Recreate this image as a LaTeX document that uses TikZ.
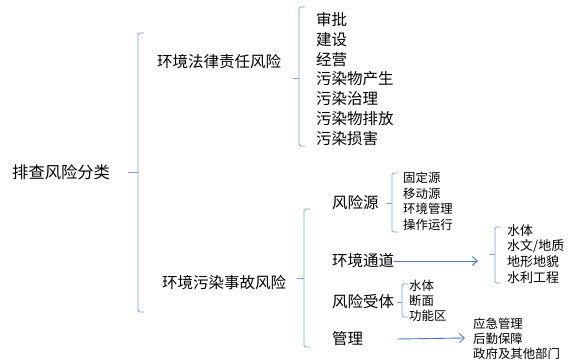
\documentclass[tikz,border=0pt]{standalone}
\usepackage{fontspec}
\usepackage{xcolor}
\usepackage{tikz}
\usetikzlibrary{arrows.meta, positioning}

\newfontfamily\cjk{Noto Sans CJK SC}
\definecolor{brkblue}{RGB}{130,160,212}
\definecolor{arrblue}{RGB}{80,120,196}

\tikzset{
  brk/.style={draw=brkblue, line width=0.9pt, rounded corners=1.5pt},
  arr/.style={draw=arrblue, line width=0.9pt, -{Straight Barb[length=5pt,width=9pt]}},
  big/.style={anchor=west, inner sep=0pt, font=\cjk\fontsize{15.5}{16}\selectfont},
  small/.style={anchor=west, inner sep=0pt, font=\cjk\fontsize{12.4}{13}\selectfont},
}

% left bracket: x of bar, top, bottom, y of tick, x of tick end
\newcommand{\lbrak}[5]{%
  \draw[brk] (#1+6,#2) -- (#1,#2) -- (#1,#3) -- (#1+6,#3);
  \draw[brk] (#5,#4) -- (#1,#4);
}

\begin{document}
\begin{tikzpicture}[x=1pt, y=-1pt]
  \useasboundingbox (0,0) rectangle (573,363);

  % root
  \node[big, font=\cjk\fontsize{16.3}{17}\selectfont] (root) at (12,172) {排查风险分类};
  \lbrak{138}{33}{312}{172}{128}

  % legal liability risk
  \node[big] (legal) at (157,62) {环境法律责任风险};
  \lbrak{299}{7}{146}{78}{293}
  \node[big] (l1) at (316,20)  {审批};
  \node[big] (l2) at (316,39.7) {建设};
  \node[big] (l3) at (316,59.4) {经营};
  \node[big] (l4) at (316,79.1) {污染物产生};
  \node[big] (l5) at (316,98.8) {污染治理};
  \node[big] (l6) at (316,118.5) {污染物排放};
  \node[big] (l7) at (316,138.2) {污染损害};

  % pollution accident risk
  \node[big] (accident) at (162,283) {环境污染事故风险};
  \lbrak{304}{209}{347}{278}{297}
  \node[big] (source)   at (332,203) {风险源};
  \node[big] (channel)  at (332,261) {环境通道};
  \node[big] (receptor) at (332,302) {风险受体};
  \node[big] (manage)   at (332,339) {管理};

  % risk source
  \lbrak{392}{173}{232}{203}{386}
  \node[small] (s1) at (403,178) {固定源};
  \node[small] (s2) at (403,193.5) {移动源};
  \node[small] (s3) at (403,209) {环境管理};
  \node[small] (s4) at (403,224.5) {操作运行};

  % channel
  \coordinate (chend) at (478,261);
  \draw[arr] (channel.east) -- (chend);
  \lbrak{495}{227}{283}{254}{489}
  \node[small, font=\cjk\fontsize{13}{14}\selectfont] (c1) at (507,231) {水体};
  \node[small, font=\cjk\fontsize{13}{14}\selectfont] (c2) at (507,246.5) {水文/地质};
  \node[small, font=\cjk\fontsize{13}{14}\selectfont] (c3) at (507,262) {地形地貌};
  \node[small, font=\cjk\fontsize{13}{14}\selectfont] (c4) at (507,277.5) {水利工程};

  % receptor
  \lbrak{402}{284}{317}{302}{397}
  \node[small] (r1) at (409,286) {水体};
  \node[small] (r2) at (409,301) {断面};
  \node[small] (r3) at (409,316) {功能区};

  % management
  \coordinate (mgend) at (465,338);
  \draw[arr] ([xshift=34pt]manage.east) -- (mgend);
  \node[small] (m1) at (473,324) {应急管理};
  \node[small] (m2) at (473,339) {后勤保障};
  \node[small] (m3) at (473,354) {政府及其他部门};
\end{tikzpicture}
\end{document}
